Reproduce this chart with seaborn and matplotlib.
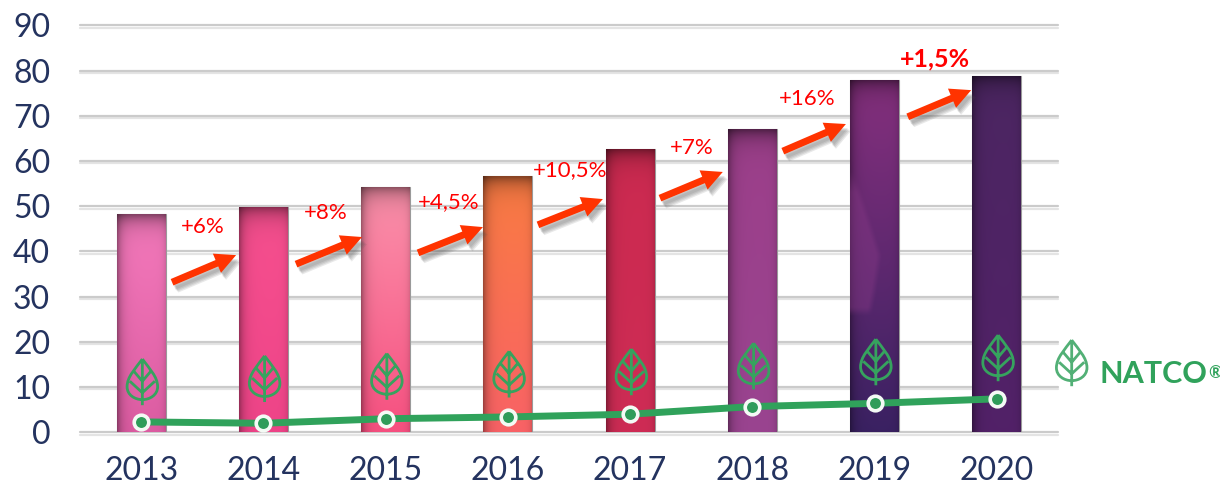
import numpy as np
import pandas as pd
import matplotlib
matplotlib.use('Agg')
import matplotlib.pyplot as plt
import matplotlib.patheffects as pe
from matplotlib.path import Path
from matplotlib.patches import PathPatch
from matplotlib.colors import to_rgb
import seaborn as sns

years = ['2013', '2014', '2015', '2016', '2017', '2018', '2019', '2020']
market = [48.2, 49.8, 54.3, 56.6, 62.7, 67.0, 77.9, 78.8]
natco = [2.3, 2.0, 3.0, 3.4, 4.0, 5.7, 6.4, 7.4]
y_ticks = [0, 10, 20, 30, 40, 50, 60, 70, 80, 90]

growth_labels = ['+6%', '+8%', '+4,5%', '+10,5%', '+7%', '+16%', '+1,5%']
label_x = [0.507, 1.513, 2.518, 3.508, 4.505, 5.446, 6.492]
label_y = [45.4, 48.5, 51.0, 58.0, 62.9, 73.7, 82.6]

arrow_x0 = [0.253, 1.267, 2.265, 3.246, 4.244, 5.249, 6.271]
arrow_x1 = [0.777, 1.807, 2.796, 3.777, 4.758, 5.765, 6.790]
arrow_y0 = [33.2, 37.2, 39.7, 45.9, 51.8, 62.2, 69.8]
arrow_y1 = [39.2, 43.2, 45.4, 51.6, 57.6, 68.2, 75.7]

leaf_base = [6.0, 6.7, 7.2, 7.7, 8.2, 9.5, 10.4, 11.3]

bar_top = ['#F57ABC', '#F7508F', '#FC92AC', '#FA7C42', '#CC2A50', '#9C3F8A', '#86307E', '#4C2662']
bar_bottom = ['#DC5CA2', '#EE4488', '#F65080', '#F96266', '#CE2C55', '#9A4490', '#3A2162', '#522168']

NAVY = '#24335F'
GREEN = '#30A25B'
RED = '#FF0000'

sns.set_theme(style='white')
plt.rcParams['font.family'] = ['Lato', 'DejaVu Sans']

fig = plt.figure(figsize=(12.2, 4.88), dpi=100)
ax = fig.add_axes([80 / 1220, 1 - 432.3 / 488, 978 / 1220, 406.8 / 488])

df = pd.DataFrame({'year': years, 'market': market})
sns.barplot(data=df, x='year', y='market', color='#888888', width=0.4, ax=ax,
            edgecolor='#9A9A9A', linewidth=0.8, zorder=2)

# bars get a small gradient picture clipped to them
for i, bar in enumerate(list(ax.patches)):
    x0, w, h = bar.get_x(), bar.get_width(), bar.get_height()
    ty = np.linspace(0, 1, 120)[:, None]
    tx = np.linspace(0, 1, 50)[None, :]
    c0 = np.array(to_rgb(bar_top[i]))
    c1 = np.array(to_rgb(bar_bottom[i]))
    img = c0[None, None, :] * (1 - ty[..., None]) + c1[None, None, :] * ty[..., None]
    img = np.repeat(img, 50, axis=1)
    side = 1 - 0.36 * np.exp(-tx / 0.10) - 0.12 * np.exp(-(1 - tx) / 0.06)
    top = 1 - 0.45 * np.exp(-(ty * h) / 2.2)
    img = img * (side * top)[..., None]
    if years[i] == '2019':
        # lighter shape left in the photo of this bar
        edge = np.interp(ty, [0.26, 0.50, 0.60, 0.67], [0.10, 0.66, 0.55, 0.45])
        mask = np.clip((edge - tx) / 0.12, 0, 1) * np.clip((ty - 0.26) / 0.06, 0, 1) * np.clip((0.67 - ty) / 0.02, 0, 1)
        img = img * (1 - 0.4 * mask[..., None]) + np.array(to_rgb('#8A3A88')) * 0.4 * mask[..., None]
    im = ax.imshow(np.clip(img, 0, 1), extent=[x0, x0 + w, 0, h], aspect='auto',
                   interpolation='bilinear', zorder=2.5)
    im.set_clip_path(bar)

ax.set_xlim(-0.5, 7.5)
ax.set_ylim(0, 90)
ax.set_yticks(y_ticks)
ax.set_xticks(range(len(years)))
ax.set_xticklabels(years)
ax.set_xlabel('')
ax.set_ylabel('')
ax.tick_params(axis='y', length=0, pad=21.5, labelsize=23, labelcolor=NAVY)
ax.tick_params(axis='x', length=0, pad=17, labelsize=23, labelcolor=NAVY)
sns.despine(ax=ax, left=True, bottom=True)

ax.set_axisbelow(True)
ax.yaxis.grid(True, color='#CBCBCB', linewidth=1.6)
for line in ax.get_ygridlines():
    line.set_clip_on(False)
    line.set_path_effects([pe.SimpleLineShadow(offset=(0, -1.6), shadow_color='#E4E4E4', alpha=1),
                           pe.Normal()])

# leaf icons
def draw_leaf(x, base, color, width=0.25, height=10.2, lw=2.0):
    verts = [(0, 1), (0.22, 0.80), (0.5, 0.62), (0.5, 0.40),
             (0.5, 0.22), (0.24, 0.12), (0, 0.12),
             (-0.24, 0.12), (-0.5, 0.22), (-0.5, 0.40),
             (-0.5, 0.62), (-0.22, 0.80), (0, 1),
             (0, 0), (0, 0.97),
             (0, 0.27), (-0.41, 0.52), (0, 0.27), (0.41, 0.52),
             (0, 0.52), (-0.27, 0.73), (0, 0.52), (0.27, 0.73)]
    codes = [Path.MOVETO] + [Path.CURVE4] * 12 + [Path.MOVETO, Path.LINETO] + [Path.MOVETO, Path.LINETO] * 4
    verts = [(x + u * width, base + v * height) for u, v in verts]
    ax.add_patch(PathPatch(Path(verts, codes), facecolor='none', edgecolor=color,
                           linewidth=lw, zorder=4, clip_on=False, capstyle='butt'))

for i, base in enumerate(leaf_base):
    draw_leaf(i + 0.01, base, '#36A35E')
draw_leaf(7.612, 10.2, '#52B076')

sns.lineplot(x=np.arange(len(years)), y=natco, color=GREEN, linewidth=5, ax=ax, zorder=5,
             marker='o', markersize=10.5, markeredgecolor='#F4FAF5', markeredgewidth=2.6,
             markerfacecolor='#2F9C5A', errorbar=None, sort=False, clip_on=False)

# growth arrows with a soft shadow
shadow = [pe.SimplePatchShadow(offset=(1.5 + k * 0.7, -3 - k * 0.7), shadow_rgbFace='#555555', alpha=0.13)
          for k in range(4)]
for x0, x1, y0, y1 in zip(arrow_x0, arrow_x1, arrow_y0, arrow_y1):
    a = ax.annotate('', xy=(x1, y1), xytext=(x0, y0), zorder=6, annotation_clip=False,
                    arrowprops=dict(arrowstyle='simple,tail_width=5,head_width=15,head_length=15',
                                    mutation_scale=1, color='#FF3300', lw=0, shrinkA=0, shrinkB=0))
    a.arrow_patch.set_path_effects(shadow + [pe.Normal()])

for i, (txt, x, y) in enumerate(zip(growth_labels, label_x, label_y)):
    bold = txt == '+1,5%'
    ax.text(x, y, txt, color=RED, ha='center', va='center', zorder=7,
            fontsize=18 if bold else 16, fontweight='bold' if bold else 'normal')

fig.text(1100 / 1220, 1 - 383 / 488, 'NATCO', color=GREEN, fontsize=22, fontweight='bold',
         ha='left', va='baseline')
fig.text(1208 / 1220, 1 - 378 / 488, '®', color=GREEN, fontsize=12, fontweight='bold',
         ha='left', va='baseline')

fig.savefig('out.png', dpi=100)
